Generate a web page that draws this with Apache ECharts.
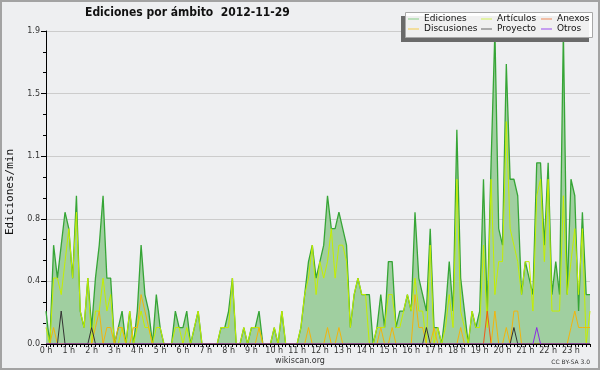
<!DOCTYPE html>
<html><head><meta charset="utf-8">
<script src="https://cdn.jsdelivr.net/npm/echarts@6/dist/echarts.min.js"></script>
<style>html,body{margin:0;padding:0;background:#eeeff1}#c{width:600px;height:370px}</style>
</head><body><div id="c"></div>
<script>
const titleText = 'Ediciones por ámbito  2012-11-29';
const yTitle = 'Ediciones/min';
const hours = ['0 h','1 h','2 h','3 h','4 h','5 h','6 h','7 h','8 h','9 h','10 h','11 h',
  '12 h','13 h','14 h','15 h','16 h','17 h','18 h','19 h','20 h','21 h','22 h','23 h'];
const seriesNames = ['Ediciones','Artículos','Anexos','Discusiones','Proyecto','Otros'];
const yTicks = [0, 0.38, 0.76, 1.14, 1.52, 1.9];

const ediciones = [
 0.2,0.0,0.6,0.4,0.6,0.8,0.7,0.4,0.9,0.2,
 0.1,0.4,0.1,0.4,0.6,0.9,0.4,0.4,0.0,0.1,
 0.2,0.0,0.2,0.0,0.2,0.6,0.3,0.2,0.0,0.3,
 0.1,0.0,0.0,0.0,0.2,0.1,0.1,0.2,0.0,0.1,
 0.2,0.0,0.0,0.0,0.0,0.0,0.1,0.1,0.2,0.4,
 0.0,0.0,0.1,0.0,0.1,0.1,0.2,0.0,0.0,0.0,
 0.1,0.0,0.2,0.0,0.0,0.0,0.0,0.1,0.3,0.5,
 0.6,0.4,0.5,0.6,0.9,0.7,0.7,0.8,0.7,0.6,
 0.1,0.3,0.4,0.3,0.3,0.3,0.0,0.1,0.3,0.1,
 0.5,0.5,0.1,0.2,0.2,0.3,0.2,0.8,0.4,0.3,
 0.2,0.7,0.1,0.1,0.0,0.2,0.5,0.2,1.3,0.4,
 0.2,0.0,0.2,0.1,0.2,1.0,0.2,1.1,1.9,0.7,
 0.6,1.7,1.0,1.0,0.9,0.3,0.5,0.4,0.3,1.1,
 1.1,0.6,1.1,0.3,0.5,0.3,1.9,0.3,1.0,0.9,
 0.2,0.8,0.3,0.3];
const articulos = [
 0.1,0.0,0.4,0.4,0.3,0.5,0.7,0.4,0.8,0.2,
 0.1,0.4,0.0,0.2,0.2,0.4,0.2,0.3,0.0,0.0,
 0.1,0.0,0.2,0.0,0.1,0.2,0.1,0.1,0.0,0.1,
 0.1,0.0,0.0,0.0,0.1,0.1,0.0,0.1,0.0,0.1,
 0.2,0.0,0.0,0.0,0.0,0.0,0.1,0.1,0.1,0.4,
 0.0,0.0,0.1,0.0,0.1,0.1,0.1,0.0,0.0,0.0,
 0.1,0.0,0.2,0.0,0.0,0.0,0.0,0.1,0.3,0.4,
 0.6,0.3,0.5,0.4,0.5,0.7,0.4,0.6,0.6,0.5,
 0.1,0.3,0.4,0.3,0.3,0.0,0.0,0.1,0.1,0.1,
 0.3,0.3,0.1,0.1,0.2,0.3,0.2,0.4,0.2,0.2,
 0.0,0.6,0.0,0.1,0.0,0.1,0.3,0.1,1.0,0.2,
 0.1,0.0,0.2,0.1,0.1,0.6,0.1,1.0,0.3,0.5,
 0.5,1.35,0.7,0.6,0.5,0.3,0.5,0.5,0.2,0.9,
 1.0,0.5,1.0,0.2,0.2,0.2,0.9,0.3,0.5,0.7,
 0.3,0.7,0.0,0.2];
const anexos = [
 0,0,0,0,0,0,0,0,0,0, 0,0,0,0,0,0,0,0,0,0, 0,0,0,0,0,0,0,0,0,0,
 0,0,0,0,0,0,0,0,0,0, 0,0,0,0,0,0,0,0,0,0, 0,0,0,0,0,0,0,0,0,0,
 0,0,0,0,0,0,0,0,0,0, 0,0,0,0,0,0,0,0,0,0, 0,0,0,0,0,0,0,0,0,0,
 0,0,0,0,0,0,0,0,0,0, 0,0,0,0,0,0,0,0,0,0, 0,0,0,0,0,0,0.2,0,0,0,
 0,0,0,0,0,0,0,0,0,0, 0,0,0,0,0,0,0,0,0,0, 0,0,0,0];
const discusiones = [
 0,0,0.1,0,0,0,0,0,0,0,
 0,0,0,0.1,0.2,0,0.1,0.1,0,0.1,
 0.1,0,0,0.1,0.1,0.3,0.2,0.1,0,0,
 0,0,0,0,0,0,0,0,0,0,
 0,0,0,0,0,0,0,0,0,0,
 0,0,0,0,0,0,0.1,0,0,0,
 0,0,0,0,0,0,0,0,0,0.1,
 0,0,0,0,0.1,0,0,0.1,0,0,
 0,0,0,0,0,0,0,0,0.1,0,
 0,0.1,0,0,0,0,0,0.3,0.1,0.1,
 0,0,0.1,0,0,0,0,0,0,0.1,
 0,0,0,0,0,0,0,0,0.2,0,
 0,0.1,0,0.2,0.2,0,0,0,0,0,
 0,0,0,0,0,0,0,0,0.1,0.2,
 0.1,0.1,0.1,0.1];
const proyecto = [
 0,0,0,0,0.2,0,0,0,0,0, 0,0,0.1,0,0,0,0,0,0,0, 0,0,0,0,0,0,0,0,0,0,
 0,0,0,0,0,0,0,0,0,0, 0,0,0,0,0,0,0,0,0,0, 0,0,0,0,0,0,0,0,0,0,
 0,0,0,0,0,0,0,0,0,0, 0,0,0,0,0,0,0,0,0,0, 0,0,0,0,0,0,0,0,0,0,
 0,0,0,0,0,0,0,0,0,0, 0.1,0,0,0,0,0,0,0,0,0, 0,0,0,0,0,0,0,0,0,0,
 0,0,0,0.1,0,0,0,0,0,0, 0,0,0,0,0,0,0,0,0,0, 0,0,0,0];
const otros = [
 0,0,0,0,0,0,0,0,0,0, 0,0,0,0,0,0,0,0,0,0, 0,0,0,0,0,0,0,0,0,0,
 0,0,0,0,0,0,0,0,0,0, 0,0,0,0,0,0,0,0,0,0, 0,0,0,0,0,0,0,0,0,0,
 0,0,0,0,0,0,0,0,0,0, 0,0,0,0,0,0,0,0,0,0, 0,0,0,0,0,0,0,0,0,0,
 0,0,0,0,0,0,0,0,0,0, 0,0,0,0,0,0,0,0,0,0, 0,0,0,0,0,0,0,0,0,0,
 0,0,0,0,0,0,0,0,0,0.1, 0,0,0,0,0,0,0,0,0,0, 0,0,0,0];

// 10-minute slot categories
const slots = [];
hours.forEach(function (h, hi) { for (let m = 0; m < 60; m += 10) slots.push(hi + ':' + (m < 10 ? '0' : '') + m); });

const F = 'DejaVu Sans';
const colors = {
  'Ediciones': '#36a536', 'Artículos': '#c4ee00', 'Anexos': '#ee5a1a',
  'Discusiones': '#f2b40c', 'Proyecto': '#333333', 'Otros': '#8a2be2'
};
const legendColors = {
  'Ediciones': '#86cf86', 'Artículos': '#d2f25a', 'Anexos': '#f08a5a',
  'Discusiones': '#f5cc4a', 'Proyecto': '#666666', 'Otros': '#9a4cf0'
};
const dataMap = {
  'Ediciones': ediciones, 'Artículos': articulos, 'Anexos': anexos,
  'Discusiones': discusiones, 'Proyecto': proyecto, 'Otros': otros
};

function legendCol(names, left) {
  return {
    orient: 'vertical', left: left, top: 14, padding: 0, itemGap: 0,
    icon: 'rect', itemWidth: 11, itemHeight: 1, selectedMode: false, z: 6,
    textStyle: { fontFamily: F, fontSize: 9, color: '#111', lineHeight: 10 },
    data: names.map(function (n) {
      return { name: n, itemStyle: { color: legendColors[n], borderWidth: 0 } };
    })
  };
}

const series = seriesNames.map(function (n, k) {
  const s = {
    name: n, type: 'line', data: dataMap[n], symbol: 'none', z: k === 0 ? 2 : 3,
    lineStyle: { color: colors[n], width: k === 0 ? 1.3 : 1 },
    itemStyle: { color: colors[n] },
    emphasis: { disabled: true }
  };
  if (k === 0) s.areaStyle = { color: '#a0cfa0', opacity: 1 };
  return s;
});

const chart = echarts.init(document.getElementById('c'));
chart.setOption({
  animation: false,
  backgroundColor: '#eeeff1',
  title: {
    text: titleText, left: 85, top: 7, padding: 0,
    textStyle: { fontFamily: 'DejaVu Sans Condensed', fontWeight: 'bold', fontSize: 12, color: '#111' }
  },
  grid: { left: 46, right: 10, top: 31, bottom: 26 },
  xAxis: {
    type: 'category', data: slots, boundaryGap: false, z: 10,
    axisLine: { lineStyle: { color: '#000', width: 1 } },
    axisTick: { interval: 0, length: 3, lineStyle: { color: '#000' } },
    axisLabel: {
      interval: 5, margin: 3, fontFamily: F, fontSize: 8, color: '#333',
      formatter: function (v, i) { return hours[i / 6]; }
    },
    splitLine: { show: false }
  },
  yAxis: {
    type: 'value', min: yTicks[0], max: yTicks[yTicks.length - 1], interval: yTicks[1],
    axisLine: { show: true, lineStyle: { color: '#000', width: 1 } },
    axisTick: { show: true, length: 5, lineStyle: { color: '#000' } },
    minorTick: { show: true, splitNumber: 3, length: 3, lineStyle: { color: '#000' } },
    axisLabel: { fontFamily: F, fontSize: 8, color: '#333', margin: 6, formatter: function (v) { return v.toFixed(1); } },
    splitLine: { lineStyle: { color: '#cccccc', width: 1 } }
  },
  legend: [
    legendCol(['Ediciones', 'Discusiones'], 408),
    legendCol(['Artículos', 'Proyecto'], 481),
    legendCol(['Anexos', 'Otros'], 541)
  ],
  graphic: [
    { type: 'rect', z: 100, silent: true, shape: { x: 1, y: 1, width: 598, height: 368 },
      style: { fill: null, stroke: '#a3a3a3', lineWidth: 2 } },
    { type: 'rect', z: 5, silent: true, shape: { x: 401, y: 16, width: 188, height: 26 },
      style: { fill: '#6a6a6a' } },
    { type: 'rect', z: 5, silent: true, shape: { x: 405.5, y: 12.5, width: 187, height: 25 },
      style: { fill: 'rgba(255,255,255,0.9)', stroke: '#a8a8a8', lineWidth: 1 } },
    { type: 'text', z: 5, silent: true, x: 10, y: 192, rotation: Math.PI / 2,
      style: { text: yTitle, fontFamily: 'DejaVu Sans Mono', fontSize: 11, fill: '#111', align: 'center', verticalAlign: 'middle' } },
    { type: 'text', z: 5, silent: true, x: 300, y: 361,
      style: { text: 'wikiscan.org', fontFamily: F, fontSize: 8, fill: '#333', align: 'center', verticalAlign: 'middle' } },
    { type: 'text', z: 5, silent: true, x: 590, y: 362,
      style: { text: 'CC BY-SA 3.0', fontFamily: F, fontSize: 6, fill: '#333', align: 'right', verticalAlign: 'middle' } }
  ],
  series: series
});
</script></body></html>
